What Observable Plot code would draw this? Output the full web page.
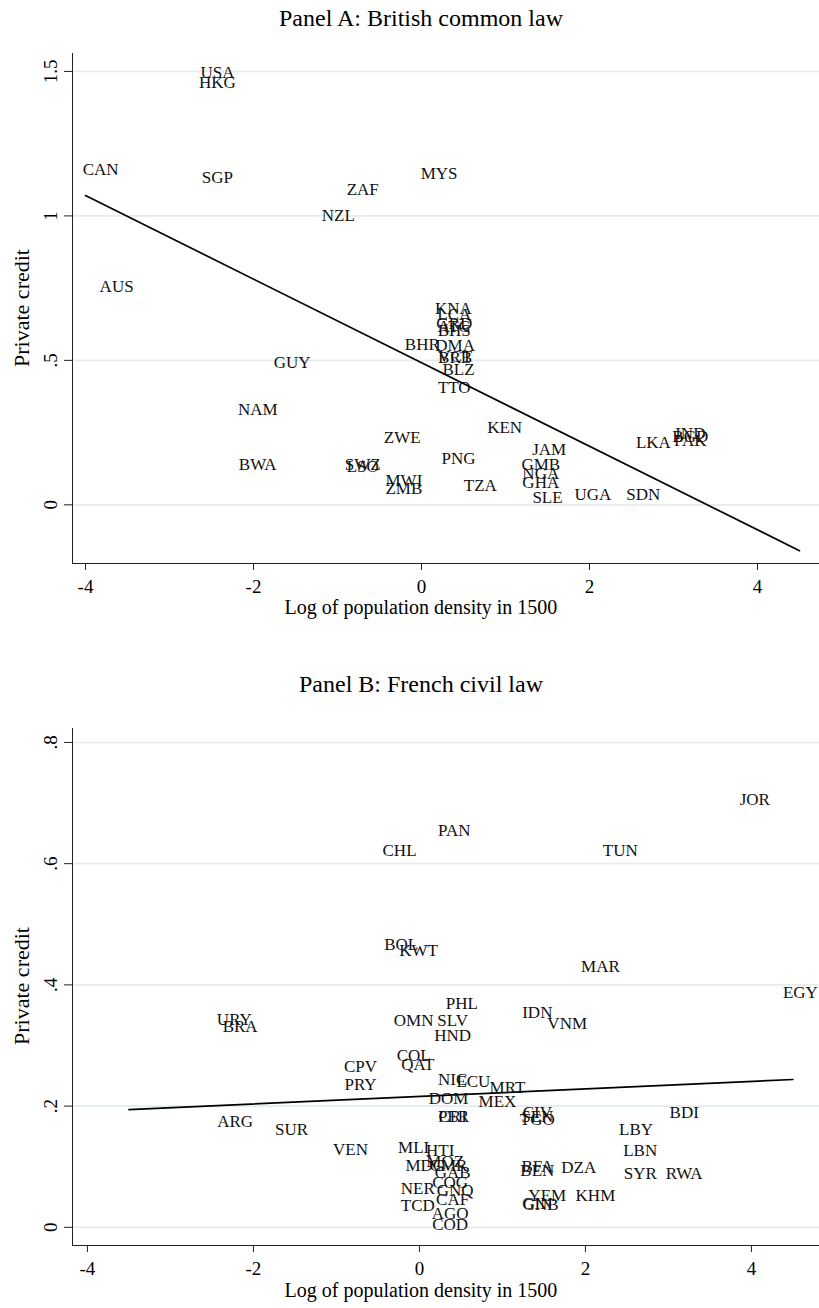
<!DOCTYPE html>
<html><head><meta charset="utf-8">
<script src="https://cdn.jsdelivr.net/npm/d3@7"></script>
<script src="https://cdn.jsdelivr.net/npm/@observablehq/plot@0.6"></script>
<style>
body{margin:0;background:#fff;}
#wrap{position:relative;width:819px;height:1308px;font-family:"Liberation Serif",serif;color:#000;overflow:hidden;}
.t{position:absolute;white-space:nowrap;transform:translate(-50%,-50%);}
.yl{position:absolute;white-space:nowrap;transform:translate(-50%,-50%) rotate(-90deg);}
#wrap svg{position:absolute;left:0;}
</style></head><body><div id="wrap"></div>
<script>
// ---------- Panel A: British common law ----------
const aCodes = ["USA","HKG","CAN","SGP","MYS","ZAF","NZL","AUS","KNA","LCA","GRD","ATG","BHS","BHR","DMA","VCT","BRB","BLZ","TTO","GUY","NAM","KEN","ZWE","JAM","PNG","GMB","NGA","BWA","SWZ","LSO","MWI","ZMB","TZA","GHA","SLE","UGA","SDN","LKA","IND","BGD","PAK"];
const aDensity = [-2.43,-2.43,-3.82,-2.43,0.21,-0.70,-0.99,-3.63,0.38,0.39,0.39,0.39,0.39,0.01,0.40,0.40,0.40,0.44,0.39,-1.54,-1.95,0.99,-0.23,1.52,0.44,1.42,1.42,-1.95,-0.70,-0.70,-0.21,-0.21,0.70,1.42,1.50,2.04,2.64,2.76,3.20,3.20,3.20];
const aCredit = [1.497,1.462,1.162,1.131,1.148,1.090,1.000,0.755,0.679,0.659,0.628,0.617,0.603,0.555,0.552,0.514,0.510,0.469,0.407,0.493,0.331,0.269,0.234,0.190,0.159,0.141,0.107,0.138,0.141,0.134,0.083,0.055,0.066,0.076,0.024,0.034,0.034,0.214,0.248,0.238,0.221];
const aFitRange = [-4, 4.5];
const aFitIntercept = 0.492;
const aFitSlope = -0.1446;
const aYTicks = [0, 0.5, 1, 1.5];

// ---------- Panel B: French civil law ----------
const bCodes = ["JOR","PAN","CHL","TUN","BOL","KWT","MAR","EGY","PHL","URY","BRA","OMN","SLV","IDN","VNM","HND","COL","QAT","CPV","PRY","NIC","ECU","MRT","DOM","MEX","CRI","PER","ARG","SUR","CIV","SEN","TGO","BDI","LBY","LBN","SYR","RWA","VEN","MLI","HTI","MOZ","MDG","CMR","GAB","COG","NER","GNQ","CAF","TCD","AGO","COD","BFA","BEN","DZA","YEM","KHM","GIN","GNB"];
const bDensity = [4.04,0.42,-0.24,2.42,-0.22,-0.01,2.18,4.59,0.51,-2.23,-2.16,-0.07,0.40,1.42,1.78,0.40,-0.07,-0.02,-0.71,-0.71,0.40,0.65,1.06,0.35,0.94,0.40,0.41,-2.22,-1.54,1.42,1.42,1.42,3.19,2.61,2.66,2.66,3.19,-0.83,-0.07,0.25,0.31,0.07,0.35,0.40,0.37,-0.02,0.43,0.40,-0.02,0.37,0.37,1.42,1.42,1.92,1.54,2.12,1.42,1.46];
const bCredit = [0.706,0.655,0.621,0.621,0.466,0.456,0.431,0.387,0.370,0.342,0.332,0.341,0.341,0.354,0.336,0.317,0.284,0.268,0.266,0.235,0.243,0.240,0.231,0.213,0.207,0.182,0.182,0.174,0.162,0.190,0.183,0.177,0.190,0.162,0.126,0.088,0.088,0.129,0.132,0.126,0.109,0.102,0.102,0.091,0.074,0.064,0.061,0.046,0.036,0.023,0.005,0.101,0.094,0.099,0.053,0.053,0.040,0.038];
const bFitRange = [-3.5, 4.5];
const bFitIntercept = 0.216;
const bFitSlope = 0.0062;
const bYTicks = [0, 0.2, 0.4, 0.6, 0.8];

const xTicks = [-4, -2, 0, 2, 4];
const titles = ["Panel A: British common law", "Panel B: French civil law"];
const xTitle = "Log of population density in 1500";
const yTitle = "Private credit";

const fmtY = d => String(d).replace(/^0\./, ".");
const fmtX = d => String(d);

function panel({codes, xs, ys, fitRange, intercept, slope, yTicks, xDomain, yDomain, height, marginTop, marginBottom}) {
  const pts = codes.map((c, i) => ({c, x: xs[i], y: ys[i]}));
  const fit = fitRange.map(x => ({x, y: intercept + slope * x}));
  return Plot.plot({
    width: 819, height, marginLeft: 72, marginRight: 0, marginTop, marginBottom,
    style: {fontFamily: "Liberation Serif, serif", background: "transparent", color: "#000", overflow: "visible"},
    x: {domain: xDomain},
    y: {domain: yDomain},
    marks: [
      Plot.gridY(yTicks, {stroke: "#e4ecef", strokeOpacity: 1, strokeWidth: 1.6}),
      Plot.ruleX([xDomain[0]], {stroke: "#222", strokeWidth: 1}),
      Plot.ruleY([yDomain[0]], {stroke: "#222", strokeWidth: 1}),
      Plot.axisY(yTicks, {tickRotate: -90, tickSize: 8, tickPadding: 8, tickFormat: fmtY, fontSize: 19, label: null, stroke: "#222"}),
      Plot.axisX(xTicks, {tickSize: 7, tickPadding: 9, tickFormat: fmtX, fontSize: 19, label: null, stroke: "#222"}),
      Plot.line(fit, {x: "x", y: "y", stroke: "#000", strokeWidth: 1.7}),
      Plot.text(pts, {x: "x", y: "y", text: "c", fontSize: 17, fill: "#111", fontFamily: "Liberation Serif, serif"})
    ]
  });
}

const wrap = document.getElementById("wrap");

const svgA = panel({codes: aCodes, xs: aDensity, ys: aCredit, fitRange: aFitRange, intercept: aFitIntercept, slope: aFitSlope,
  yTicks: aYTicks, xDomain: [-4.155, 4.738], yDomain: [-0.203, 1.562], height: 654, marginTop: 53, marginBottom: 654 - 563});
svgA.style.top = "0px";
wrap.appendChild(svgA);

const svgB = panel({codes: bCodes, xs: bDensity, ys: bCredit, fitRange: bFitRange, intercept: bFitIntercept, slope: bFitSlope,
  yTicks: bYTicks, xDomain: [-4.18, 4.82], yDomain: [-0.030, 0.823], height: 654, marginTop: 728 - 654, marginBottom: 1308 - 1245});
svgB.style.top = "654px";
wrap.appendChild(svgB);

function addText(txt, cls, x, y, size) {
  const d = document.createElement("div");
  d.className = cls; d.textContent = txt;
  d.style.left = x + "px"; d.style.top = y + "px"; d.style.fontSize = size + "px";
  wrap.appendChild(d);
}
addText(titles[0], "t", 421, 18, 24);
addText(titles[1], "t", 421, 684, 24);
addText(yTitle, "yl", 22, 308, 22);
addText(yTitle, "yl", 22, 986, 22);
addText(xTitle, "t", 421, 607, 20);
addText(xTitle, "t", 421, 1290, 20);
</script>
</body></html>
